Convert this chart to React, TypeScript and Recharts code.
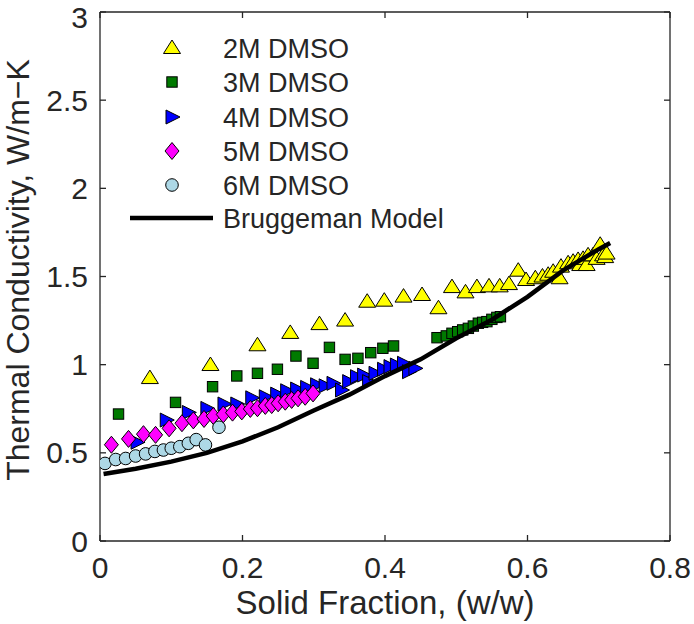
import React from 'react';
import { ScatterChart, Scatter, XAxis, YAxis, Legend } from 'recharts';

const xTicks = [0, 0.2, 0.4, 0.6, 0.8];
const yTicks = [0, 0.5, 1, 1.5, 2, 2.5, 3];

const s2M_x = [0.070, 0.155, 0.221, 0.267, 0.308, 0.344, 0.375, 0.399, 0.426, 0.452, 0.475, 0.494, 0.513, 0.529, 0.546, 0.561, 0.574, 0.587, 0.598, 0.611, 0.621, 0.629, 0.636, 0.645, 0.647, 0.657, 0.664, 0.671, 0.674, 0.678, 0.683, 0.685, 0.692, 0.697, 0.702, 0.706, 0.709, 0.711];
const s2M_y = [0.924, 0.998, 1.11, 1.18, 1.23, 1.25, 1.357, 1.363, 1.386, 1.395, 1.32, 1.44, 1.41, 1.44, 1.444, 1.444, 1.457, 1.533, 1.48, 1.49, 1.50, 1.51, 1.527, 1.49, 1.556, 1.575, 1.584, 1.594, 1.565, 1.60, 1.565, 1.62, 1.62, 1.60, 1.68, 1.62, 1.61, 1.63];

const s3M_x = [0.026, 0.106, 0.158, 0.192, 0.221, 0.249, 0.275, 0.299, 0.322, 0.344, 0.362, 0.380, 0.397, 0.412, 0.473, 0.486, 0.494, 0.502, 0.509, 0.517, 0.524, 0.531, 0.537, 0.543, 0.550, 0.557, 0.562];
const s3M_y = [0.72, 0.786, 0.875, 0.936, 0.951, 0.974, 1.049, 1.008, 1.098, 1.03, 1.036, 1.068, 1.093, 1.106, 1.153, 1.163, 1.178, 1.187, 1.197, 1.206, 1.219, 1.235, 1.24, 1.244, 1.257, 1.268, 1.272];

const s4M_x = [0.052, 0.093, 0.124, 0.150, 0.174, 0.192, 0.213, 0.232, 0.248, 0.262, 0.276, 0.290, 0.304, 0.316, 0.327, 0.339, 0.349, 0.360, 0.370, 0.377, 0.386, 0.398, 0.407, 0.416, 0.426, 0.433, 0.442];
const s4M_y = [0.56, 0.686, 0.729, 0.752, 0.777, 0.777, 0.812, 0.818, 0.833, 0.852, 0.862, 0.871, 0.886, 0.88, 0.894, 0.856, 0.904, 0.932, 0.941, 0.904, 0.951, 0.974, 0.989, 0.998, 1.008, 0.96, 0.979];

const s5M_x = [0.016, 0.040, 0.061, 0.078, 0.097, 0.115, 0.131, 0.146, 0.159, 0.173, 0.186, 0.199, 0.211, 0.221, 0.232, 0.241, 0.250, 0.260, 0.269, 0.278, 0.288, 0.299];
const s5M_y = [0.546, 0.579, 0.606, 0.602, 0.639, 0.668, 0.684, 0.692, 0.709, 0.718, 0.728, 0.735, 0.749, 0.753, 0.766, 0.771, 0.781, 0.79, 0.80, 0.809, 0.818, 0.837];

const s6M_x = [0.007, 0.022, 0.036, 0.050, 0.064, 0.077, 0.089, 0.100, 0.112, 0.124, 0.135, 0.148, 0.167];
const s6M_y = [0.44, 0.462, 0.468, 0.482, 0.494, 0.508, 0.516, 0.526, 0.535, 0.554, 0.575, 0.545, 0.645];

const brug_x = [0.005, 0.05, 0.1, 0.15, 0.2, 0.25, 0.3, 0.35, 0.4, 0.45, 0.5, 0.55, 0.6, 0.65, 0.7, 0.716];
const brug_y = [0.38, 0.41, 0.45, 0.50, 0.565, 0.645, 0.74, 0.83, 0.935, 1.03, 1.15, 1.255, 1.385, 1.535, 1.655, 1.69];

const zip = (xs: number[], ys: number[]) => xs.map((x, i) => ({ x, y: ys[i] }));

type Kind = 'up' | 'square' | 'right' | 'diamond' | 'circle';

const seriesList: { name: string; kind: Kind; color: string; data: { x: number; y: number }[] }[] = [
  { name: '2M DMSO', kind: 'up', color: '#ffff00', data: zip(s2M_x, s2M_y) },
  { name: '3M DMSO', kind: 'square', color: '#007a00', data: zip(s3M_x, s3M_y) },
  { name: '4M DMSO', kind: 'right', color: '#0000ff', data: zip(s4M_x, s4M_y) },
  { name: '5M DMSO', kind: 'diamond', color: '#ff00ff', data: zip(s5M_x, s5M_y) },
  { name: '6M DMSO', kind: 'circle', color: '#add8e6', data: zip(s6M_x, s6M_y) },
];
const brugData = zip(brug_x, brug_y);

function MarkerShape({ kind, color, cx, cy }: { kind: Kind; color: string; cx: number; cy: number }) {
  const st = { fill: color, stroke: '#000', strokeWidth: 1 };
  switch (kind) {
    case 'up':
      return <path d={`M${cx},${cy - 8} L${cx + 8.5},${cy + 5.5} L${cx - 8.5},${cy + 5.5} Z`} {...st} />;
    case 'square':
      return <rect x={cx - 5.2} y={cy - 5.2} width={10.4} height={10.4} {...st} />;
    case 'right':
      return <path d={`M${cx - 6},${cy - 7} L${cx + 8},${cy} L${cx - 6},${cy + 7} Z`} {...st} />;
    case 'diamond':
      return <path d={`M${cx},${cy - 8.5} L${cx + 7},${cy} L${cx},${cy + 8.5} L${cx - 7},${cy} Z`} {...st} />;
    default:
      return <circle cx={cx} cy={cy} r={6.3} {...st} />;
  }
}

const FONT = '"Liberation Sans", Arial, Helvetica, sans-serif';
const TXT = '#262626';

function LegendBox() {
  const rowY = [48, 82, 117, 151, 185];
  return (
    <svg width={420} height={240} style={{ overflow: 'visible', display: 'block' }}>
      {seriesList.map((s, i) => (
        <g key={s.name}>
          <MarkerShape kind={s.kind} color={s.color} cx={172} cy={rowY[i]} />
          <text x={223} y={rowY[i]} dy="0.36em" fontSize={27} fill={TXT} fontFamily={FONT}>
            {s.name}
          </text>
        </g>
      ))}
      <line x1={130} x2={213} y1={218} y2={218} stroke="#000" strokeWidth={4.5} />
      <text x={223} y={218} dy="0.36em" fontSize={27} fill={TXT} fontFamily={FONT}>
        Bruggeman Model
      </text>
    </svg>
  );
}

export default function App() {
  const tickStyle = { fontSize: 30, fill: TXT, fontFamily: FONT };
  return (
    <div style={{ position: 'absolute', left: 0, top: 0, width: 694, height: 624, background: '#fff' }}>
      <ScatterChart width={694} height={624} margin={{ top: 0, right: 0, bottom: 0, left: 0 }} style={{ fontFamily: FONT }}>
        <XAxis
          xAxisId="b"
          type="number"
          dataKey="x"
          domain={[0, 0.8]}
          ticks={xTicks}
          allowDataOverflow
          orientation="bottom"
          height={83}
          tickSize={-6}
          tickMargin={22}
          tick={tickStyle}
          axisLine={{ stroke: TXT, strokeWidth: 1.3 }}
          tickLine={{ stroke: TXT, strokeWidth: 1.3 }}
          label={{ value: 'Solid Fraction, (w/w)', position: 'insideBottom', offset: 10, fontSize: 33, fill: TXT, fontFamily: FONT }}
        />
        <XAxis
          xAxisId="t"
          type="number"
          dataKey="x"
          domain={[0, 0.8]}
          ticks={xTicks}
          allowDataOverflow
          orientation="top"
          height={12}
          tickSize={-6}
          tick={() => <g />}
          axisLine={{ stroke: TXT, strokeWidth: 1.3 }}
          tickLine={{ stroke: TXT, strokeWidth: 1.3 }}
        />
        <YAxis
          yAxisId="l"
          type="number"
          dataKey="y"
          domain={[0, 3]}
          ticks={yTicks}
          allowDataOverflow
          orientation="left"
          width={100}
          tickSize={-6}
          tickMargin={18}
          tick={tickStyle}
          axisLine={{ stroke: TXT, strokeWidth: 1.3 }}
          tickLine={{ stroke: TXT, strokeWidth: 1.3 }}
          label={{
            content: () => (
              <text x={29} y={270} transform="rotate(-90 29 270)" textAnchor="middle" fontSize={32} fill={TXT} fontFamily={FONT}>
                Thermal Conductivity, W/m−K
              </text>
            ),
          }}
        />
        <YAxis
          yAxisId="r"
          type="number"
          dataKey="y"
          domain={[0, 3]}
          ticks={yTicks}
          allowDataOverflow
          orientation="right"
          width={24}
          tickSize={-6}
          tick={() => <g />}
          axisLine={{ stroke: TXT, strokeWidth: 1.3 }}
          tickLine={{ stroke: TXT, strokeWidth: 1.3 }}
        />
        {seriesList.map((s) => (
          <Scatter
            key={s.name}
            name={s.name}
            data={s.data}
            xAxisId="b"
            yAxisId="l"
            isAnimationActive={false}
            shape={(p: any) => <MarkerShape kind={s.kind} color={s.color} cx={p.cx} cy={p.cy} />}
          />
        ))}
        <Scatter
          name="Bruggeman Model"
          data={brugData}
          xAxisId="b"
          yAxisId="l"
          isAnimationActive={false}
          line={{ stroke: '#000', strokeWidth: 4.5 }}
          lineType="joint"
          shape={() => <g />}
        />
        <Legend
          layout="vertical"
          align="center"
          verticalAlign="middle"
          wrapperStyle={{ position: 'absolute', left: 0, top: 0, width: 420, height: 240 }}
          content={() => <LegendBox />}
        />
      </ScatterChart>
    </div>
  );
}
